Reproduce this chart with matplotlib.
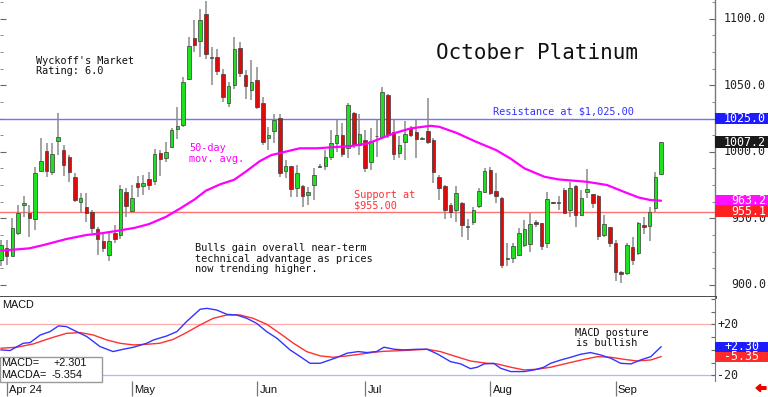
import matplotlib
matplotlib.use('Agg')
import matplotlib.pyplot as plt
from matplotlib.patches import Rectangle, FancyArrow
from matplotlib.transforms import IdentityTransform
import numpy as np

W, H = 768, 397

# ---------------- data ----------------
opens = [918.75, 927.5, 921.75, 938.75, 960, 953.75, 949.25, 985.75, 1000.5, 985,
         1008.25, 1001.25, 996.25, 981.25, 962, 958.75, 954.75, 941.75, 933.25, 922.5,
         939.25, 937.5, 970, 955.75, 976.75, 974.5, 979.25, 978, 999.25, 995,
         1003.25, 1016.75, 1020, 1055, 1085.75, 1083.25, 1103.75, 1070.5, 1071.25, 1058.25,
         1036.75, 1050.5, 1078.25, 1057.5, 1046.25, 1054.25, 1036.75, 1010, 1015.5, 1025.5,
         985.5, 989.25, 972.5, 974.25, 967.5, 975, 988.5, 989.5, 995.75, 1006.75,
         1012.5, 1002.5, 1029.25, 1005, 1008.75, 992.5, 1011.5, 1011.25, 1043, 1015,
         999.25, 1007, 1018, 1015, 1009.75, 1015.5, 1008.75, 981.25, 974.25, 960,
         956.25, 961.25, 943.5, 947.5, 959.5, 969.5, 986.25, 970.5, 965, 919.25,
         920, 922.5, 930, 930.5, 947, 946.25, 931.25, 961.75, 961.25, 971.25,
         956.25, 974.25, 952.5, 970, 968, 966.75, 937.5, 943.25, 931.25, 909.25,
         908.75, 928.25, 923.75, 945.25, 944.25, 957.5, 983]
highs = [933.75, 933.75, 950, 960, 966.75, 960, 988.75, 1010, 1006.25, 1006.25,
         1029.25, 1005, 997.5, 983.75, 968.75, 968.75, 956.25, 943.75, 938.75, 938.75,
         945, 975, 972.5, 975, 981.75, 982.5, 985, 1001.75, 1001.25, 1007.5,
         1017.5, 1033.75, 1056.25, 1086.25, 1099.25, 1107.5, 1113, 1078.75, 1077.5, 1062.5,
         1052.5, 1086.25, 1082.5, 1061.25, 1068.75, 1063.75, 1041.25, 1018.75, 1028.75, 1028.75,
         993.75, 989.25, 990, 975, 973.75, 987.5, 990.5, 1001.25, 1016.25, 1023.75,
         1021.25, 1036.75, 1030, 1028.75, 1016.25, 1017.5, 1023.75, 1048.75, 1043.75, 1023.75,
         1011.75, 1023.25, 1019.25, 1023.75, 1011, 1040.75, 1010, 982.5, 975, 961.25,
         974.25, 962.5, 949.25, 958.75, 972.5, 987.5, 988.75, 983.75, 966.25, 931.25,
         931.25, 942.5, 948.75, 954.25, 948.75, 946.75, 970, 962, 966.75, 972.5,
         977.5, 975, 971.25, 986.75, 968.25, 967.5, 952.5, 943.75, 933.75, 910,
         931.25, 936.25, 947.5, 951.25, 958.75, 985, 1007.5]
lows = [913.75, 915, 921.25, 937.5, 951.25, 936.25, 941.25, 985.75, 981.25, 982.5,
        997.5, 981.75, 977.5, 962.5, 953.75, 947.5, 938.75, 922.5, 925, 917.5,
        931.75, 934.25, 951.25, 955, 966.25, 967.5, 971.25, 975, 981.75, 992,
        1002.5, 1009.25, 1018.75, 1053.75, 1075, 1071.25, 1070, 1050, 1057.5, 1037.5,
        1033.75, 1047.5, 1056.25, 1040, 1038.75, 1032.5, 1005, 1001.25, 1006.25, 981.25,
        980, 966.25, 966.25, 958.75, 960, 963.75, 987.5, 986.25, 993.75, 1000,
        996.25, 995, 1002.5, 997.5, 985, 986.25, 996.25, 1010, 1010, 993.75,
        995, 993.75, 1011.25, 995, 1009, 1005.75, 976.25, 963.75, 949.25, 950,
        947.5, 936.25, 933.75, 945, 957.5, 968.75, 967.5, 961.25, 912.5, 913.75,
        916.25, 921.25, 928.75, 925, 943.75, 926.25, 927.5, 961, 956.25, 953.75,
        951.25, 943.75, 951.75, 965, 957.5, 933.75, 936.25, 928.75, 902.5, 901.25,
        907.5, 915, 922.5, 938.25, 933.25, 955, 982.5]
closes = [930, 921.25, 942.5, 953.75, 961.75, 950, 983.75, 993, 985.75, 998,
          1011.25, 990, 984.5, 963.75, 965, 954.25, 943, 934.25, 927.5, 933.25,
          934.25, 971.75, 959.25, 965, 973.25, 976.25, 975, 998, 994.25, 1000,
          1016.25, 1019.25, 1052.5, 1079.25, 1080.5, 1098.75, 1073.75, 1071, 1060.75, 1041.25,
          1049.25, 1077.5, 1059.25, 1049.25, 1052.5, 1033.75, 1007.5, 1012.5, 1023.75, 983.75,
          989.25, 971.75, 983.75, 966.75, 969.75, 982.5, 989.25, 995.75, 1006.75, 1012.5,
          998, 1035, 1005, 1013, 987.5, 1008, 1012, 1044.75, 1012.5, 998,
          1005, 1013.25, 1012.5, 1009.5, 1010.25, 1007.5, 985, 973, 956.25, 955,
          968.75, 945, 944, 956.25, 970.5, 985.5, 969.25, 966.75, 915, 919.75,
          929.5, 939.25, 941.75, 945.75, 945.5, 929.25, 964.25, 961.25, 962.5, 954.25,
          972.5, 952.5, 965, 971.75, 961.75, 936.75, 945.75, 931.75, 909.25, 908,
          930, 918.25, 946.25, 943.75, 955, 981.25, 1007.2]

ma_idx = [0, 5, 7.5, 11.5, 15, 17.5, 20.5, 23.5, 26, 29, 31.5, 34, 36, 38.5, 41, 43,
          45.5, 47.5, 52.5, 55.5, 61.5, 64.5, 69, 72, 75.5, 77, 80, 83.5, 87, 89.5,
          92, 95.5, 98, 103, 106.5, 109, 112, 114, 116]
ma_val = [925.6, 927.4, 929.9, 934.4, 937.4, 938.6, 940.6, 942.8, 945.6, 951.1, 957.4,
          964.1, 970.7, 975.5, 979, 985, 993, 997.5, 1002.6, 1002.6, 1004.3, 1006.3,
          1013.8, 1017.6, 1019.5, 1018.8, 1014.3, 1007.5, 1001.3, 995, 987.5, 981.2,
          979.2, 977.4, 975, 970.7, 965.7, 963.8, 963.2]

macd_idx = [0, 1.6, 3.9, 5.1, 6.9, 8.6, 10.1, 11.5, 13.3, 15.1, 17.4, 19.7, 21.5, 23.3,
            25.6, 26.8, 29.1, 30.9, 32.6, 35, 36.2, 37.9, 39.7, 41.4, 43.2, 44.9, 46.7,
            48.5, 50.8, 52.6, 54.3, 56.1, 57.8, 59, 60.8, 62.8, 64.3, 66, 67.3, 69.1,
            70.8, 73.2, 74.9, 76.7, 79, 80.8, 82.5, 83.7, 84.9, 86.6, 87.8, 89.6, 91.9,
            93.7, 95.4, 96.6, 98.4, 100.1, 101.9, 103.6, 105.4, 107.2, 108.9, 110.7,
            112.4, 114.2, 116]
macd_val = [-0.1, -0.6, 5.1, 5.6, 11.6, 14.2, 18.7, 18.2, 14.2, 10.3, 2.5, -1.4, 0.4,
            2.0, 5.1, 7.7, 10.8, 14.2, 22.1, 31.8, 32.5, 31.2, 27.8, 27.3, 24.7, 20.8,
            14.2, 9.0, -0.1, -5.4, -10.6, -10.6, -8.0, -6.1, -2.7, -1.4, -2.2, -1.4, 2.0,
            0.4, -0.1, 0.4, 0.4, -3.3, -9.3, -11.1, -14.8, -13.7, -11.1, -10.6, -14.5,
            -17.1, -17.1, -15.8, -13.7, -10.6, -8.0, -5.9, -3.5, -2.2, -4.1, -6.7, -10.6,
            -11.1, -8.0, -5.4, 2.301]
sig_idx = [0, 2.8, 5.7, 8.6, 11.5, 13.9, 16.2, 18.6, 20.9, 23.3, 25.6, 27.9, 30.3, 32.6,
           35, 37.3, 39.7, 42, 44.3, 46.7, 49, 51.4, 53.7, 56.1, 58.4, 60.8, 63.1, 65.4,
           67.3, 70.2, 74.9, 77.2, 79.6, 82.5, 85.4, 87.2, 89.6, 91.9, 94.2, 96.6, 99.5,
           102.5, 104.8, 107.2, 109.5, 111.8, 114.2, 116]
sig_val = [1.2, 2.0, 4.6, 9.0, 12.9, 13.5, 11.6, 7.7, 5.1, 3.8, 4.3, 5.1, 8.2, 13.5, 19.5,
           24.7, 27.3, 27.3, 24.7, 20.0, 12.9, 5.1, -1.4, -4.8, -5.9, -4.8, -3.5, -2.0,
           -1.2, -0.7, 0.4, -1.4, -4.8, -8.8, -10.6, -11.1, -13.7, -15.8, -15.3, -13.7,
           -10.6, -7.5, -5.4, -5.9, -7.5, -8.8, -8.0, -5.354]

month_labels = ['Apr 24', 'May', 'Jun', 'Jul', 'Aug', 'Sep']
month_idx = [1, 23, 45, 64, 86, 108]

resistance = 1025.0
support = 955.0
price_ticks = [900, 950, 1000, 1050, 1100]
price_boxes = [(1025.0, '#1c1cff'), (1007.2, '#1a1a1a'), (963.2, '#ff10ff'), (955.1, '#ff2020')]
macd_last = 2.301
macda_last = -5.354
macd_ticks = [20, -20]

# ---------------- layout ----------------
MONO = 'DejaVu Sans Mono'
SANS = 'Liberation Sans'

fig = plt.figure(figsize=(W / 100, H / 100), dpi=100)
fig.patch.set_facecolor('white')


def rect(x0, y0, x1, y1):
    return [x0 / W, 1 - y1 / H, (x1 - x0) / W, (y1 - y0) / H]


SP = 5.69
XL = (-1 / SP, 714 / SP)
PYL = (890.8, 1114.1)
MYL = (-24.5, 41.4)

ax = fig.add_axes(rect(0, 0, 715, 297))
axm = fig.add_axes(rect(0, 297, 715, 381))
axr = fig.add_axes(rect(715, 0, 768, 297))
axrm = fig.add_axes(rect(715, 297, 768, 381))
axd = fig.add_axes(rect(0, 381, 715, 397))

# ---------------- price panel ----------------
o = np.array(opens); h = np.array(highs); l = np.array(lows); c = np.array(closes)
x = np.arange(len(o))
up = c >= o
body_lo = np.minimum(o, c)
body_h = np.maximum(np.abs(c - o), 0.7)
cols = np.where(up, '#1ee01e', '#dd0c0c')

ax.axhline(resistance, color='#7373ff', lw=1.0, zorder=1)
ax.axhline(support, color='#ff7070', lw=1.0, zorder=1)
ax.vlines(x, l, h, color='#8a8a8a', lw=1.1, zorder=2)
ax.bar(x, body_h, bottom=body_lo, width=0.62, color=cols, edgecolor='#3a3a3a',
       linewidth=0.5, zorder=3)
ax.plot(ma_idx, ma_val, color='#ff00ff', lw=1.6, zorder=4, solid_capstyle='round')

ax.set_xlim(*XL)
ax.set_ylim(*PYL)
ax.set_xticks([])
ax.yaxis.set_ticks_position('both')
ax.set_yticks(price_ticks)
ax.set_yticks(np.arange(900, 1114, 12.5), minor=True)
ax.tick_params(axis='y', which='major', direction='in', length=4, color='#666',
               labelleft=False, labelright=False)
ax.tick_params(axis='y', which='minor', direction='in', length=2, color='#777')
for s in ['top', 'left']:
    ax.spines[s].set_visible(False)
ax.spines['right'].set_color('#7a7a7a')
ax.spines['right'].set_linewidth(1.0)
ax.spines['bottom'].set_color('#3a3a3a')
ax.spines['bottom'].set_linewidth(2.0)
ax.set_facecolor('white')

# ---------------- MACD panel ----------------
axm.axhline(20, color='#ffaaaa', lw=0.9, zorder=1)
axm.axhline(-20, color='#b4b4ff', lw=0.9, zorder=1)
axm.plot(sig_idx, sig_val, color='#ff3030', lw=1.0, zorder=2)
axm.plot(macd_idx, macd_val, color='#3434ff', lw=1.0, zorder=3)
axm.set_xlim(*XL)
axm.set_ylim(*MYL)
axm.set_xticks([])
axm.yaxis.tick_right()
axm.set_yticks([-20, -10, 0, 10, 20, 30, 40])
axm.tick_params(axis='y', direction='in', length=3, color='#666', labelright=False)
for s in ['top', 'left', 'bottom']:
    axm.spines[s].set_visible(False)
axm.spines['right'].set_color('#7a7a7a')

# ---------------- right strips ----------------
axr.set_xlim(715, 768)
axr.set_ylim(*PYL)
axr.axis('off')
for t in price_ticks:
    axr.text(766, t, f'{t:.1f}', ha='right', va='center', fontsize=8.4,
             family=MONO, color='#222', zorder=1)
bh = 9.0
for v, col in price_boxes:
    axr.add_patch(Rectangle((715, v - bh / 2), 53, bh, facecolor=col,
                            edgecolor='none', zorder=2, clip_on=False))
    axr.text(766, v, f'{v:.1f}', ha='right', va='center', fontsize=8.4,
             family=MONO, color='white', zorder=3, clip_on=False)

axrm.set_xlim(715, 768)
axrm.set_ylim(*MYL)
axrm.axis('off')
for t in macd_ticks:
    axrm.text(717, t, f'{t:+d}', ha='left', va='center', fontsize=8.4,
              family=MONO, color='#222')
mbh = 8.2
for v, col in [(macda_last, '#ff2a2a'), (macd_last, '#1c1cff')]:
    axrm.add_patch(Rectangle((715, v - mbh / 2), 53, mbh, facecolor=col,
                             edgecolor='none', zorder=2, clip_on=False))
    axrm.text(742, v, f'{v:+.2f}', ha='center', va='center', fontsize=8.4,
              family=MONO, color='white', zorder=3, clip_on=False)

# ---------------- date strip ----------------
axd.set_xlim(*XL)
axd.set_ylim(0, 1)
axd.axis('off')
for m, lab in zip(month_idx, month_labels):
    axd.vlines(m, 0.05, 1.0, color='#777', lw=0.9)
    axd.text(m + 0.4, 0.45, lab, ha='left', va='center', fontsize=8,
             family=SANS, color='#111')

# ---------------- annotations ----------------


def txt(px, py, s, **kw):
    kw.setdefault('family', MONO)
    kw.setdefault('fontsize', 7.4)
    kw.setdefault('color', '#111')
    fig.text(px / W, 1 - py / H, s, ha='left', va='center', **kw)


txt(36, 61, "Wyckoff's Market")
txt(36, 71, "Rating: 6.0")
txt(436, 53, "October Platinum", fontsize=15)
txt(493, 112, "Resistance at $1,025.00", color='#3333ff')
txt(189, 148, "50-day", color='#ff00ff')
txt(189, 159.5, "mov. avg.", color='#ff00ff')
txt(354, 195, "Support at", color='#ff3030')
txt(354, 205.5, "$955.00", color='#ff3030')
txt(195, 248, "Bulls gain overall near-term")
txt(195, 259, "technical advantage as prices")
txt(195, 269.5, "now trending higher.")
txt(575, 333, "MACD posture")
txt(576, 343.5, "is bullish")
txt(2, 305, "MACD", family=SANS, fontsize=7.8)

fig.add_artist(Rectangle((0, 1 - 382 / H), 102 / W, 25 / H, transform=fig.transFigure,
                         facecolor='white', edgecolor='#9a9a9a', lw=1, zorder=5))
txt(1, 363, "MACD=", family=SANS, fontsize=7.8, zorder=6)
txt(53, 363, f"{macd_last:+.3f}", family=SANS, fontsize=7.8, zorder=6)
txt(1, 375.5, "MACDA=", family=SANS, fontsize=7.8, zorder=6)
txt(52, 375.5, f"{macda_last:+.3f}", family=SANS, fontsize=7.8, zorder=6)

fig.add_artist(FancyArrow(766, H - 388, -10, 0, width=2.6, head_width=7.5,
                          head_length=4.5, length_includes_head=True,
                          transform=IdentityTransform(), color='#ee0000'))

fig.savefig('out.png', dpi=100)
